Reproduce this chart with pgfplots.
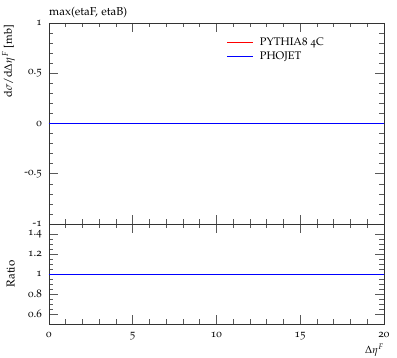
\documentclass[border=0pt]{standalone}
\usepackage[T1]{fontenc}
\usepackage[osf]{mathpazo}
\usepackage{pgfplots}
\pgfplotsset{compat=1.18}
\begin{document}
\begin{tikzpicture}
\pgfplotsset{
  rivet/.style={
    scale only axis, width=335pt,
    xmin=0, xmax=20,
    xtick={0,5,10,15,20}, minor x tick num=4,
    tick align=inside,
    major tick length=9pt, minor tick length=4.5pt,
    every tick/.style={black!65, line width=0.5pt},
    axis line style={black!80, line width=0.6pt},
    tick label style={font=\fontsize{11}{12}\selectfont},
    xticklabel style={anchor=base, yshift=-14pt, inner sep=0pt},
    yticklabel style={anchor=east, xshift=-7pt, inner sep=0pt},
    label style={inner sep=0pt},
    /pgf/number format/assume math mode=true,
    every axis title shift=0pt,
    clip=false,
  }
}
\begin{axis}[rivet, name=main, at={(0,0)}, anchor=south west, height=201pt,
  ymin=-1, ymax=1, ytick={-1,-0.5,0,0.5,1}, minor y tick num=4,
  xticklabels={},
  title={max(etaF, etaB)},
  title style={at={(axis description cs:0,1)}, anchor=base west, yshift=7pt, inner sep=0pt, font=\fontsize{11.5}{13}\selectfont},
  ylabel={d$\sigma$/d$\Delta\eta^F$ [mb]},
  ylabel style={at={(axis description cs:-0.1015,0.99)}, anchor=south east, font=\fontsize{11}{12}\selectfont},
  legend style={draw=none, fill=none, inner sep=0pt, at={(axis description cs:0.531,0.93)}, anchor=north west,
    font=\fontsize{11}{12}\selectfont, row sep=2pt, nodes={inner sep=1pt},
    /tikz/every odd column/.style={column sep=5pt}},
  legend cell align=left,
  legend image code/.code={\draw[#1] (0pt,0pt) -- (26pt,0pt);},
]
\addplot[red, line width=0.8pt] coordinates {(0,0) (20,0)};
\addlegendentry{PYTHIA8 4C}
\addplot[blue, line width=0.8pt] coordinates {(0,0) (20,0)};
\addlegendentry{PHOJET}
\end{axis}
\begin{axis}[rivet, name=ratio, at={(0,0)}, anchor=north west, height=100pt,
  ymin=0.5, ymax=1.5, ytick={0.6,0.8,1,1.2,1.4}, minor y tick num=3,
  xlabel={$\Delta\eta^F$},
  xlabel style={at={(axis description cs:1.0,-0.20)}, anchor=north east, font=\fontsize{10.5}{12}\selectfont},
  ylabel={Ratio},
  ylabel style={at={(axis description cs:-0.1015,0.5)}, anchor=south, font=\fontsize{11.5}{13}\selectfont},
]
\addplot[red, line width=0.8pt] coordinates {(0,1) (20,1)};
\addplot[blue, line width=0.8pt] coordinates {(0,1) (20,1)};
\end{axis}
\pgfresetboundingbox
\useasboundingbox (-49pt,224pt) rectangle (348pt,-134pt);
\end{tikzpicture}
\end{document}
